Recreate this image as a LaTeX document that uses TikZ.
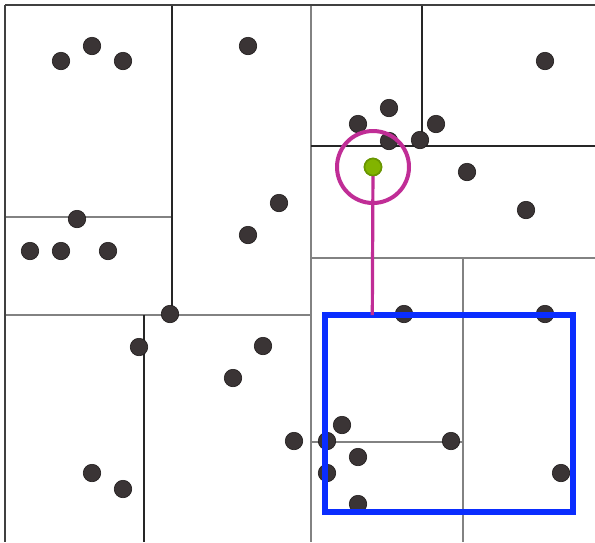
\documentclass[tikz,border=0pt]{standalone}
\usetikzlibrary{calc}
\definecolor{dotfill}{RGB}{58,52,53}
\definecolor{dotline}{RGB}{30,26,26}
\definecolor{gfill}{RGB}{130,180,0}
\definecolor{gline}{RGB}{105,150,0}
\definecolor{mag}{RGB}{192,45,150}
\definecolor{boxblue}{RGB}{10,45,255}
\definecolor{partgray}{RGB}{130,130,130}
\begin{document}
\begin{tikzpicture}[x=1pt,y=-1pt,
  blackline/.style={line width=2pt,draw=black!85},
  grayline/.style={line width=2.3pt,draw=partgray},
  framel/.style={line width=2.5pt,draw=black!75},
  pt/.style={circle,fill=dotfill,draw=dotline,line width=0.6pt,inner sep=0pt,minimum size=17.5pt},
  query/.style={circle,fill=gfill,draw=gline,line width=1.6pt,inner sep=0pt,minimum size=17pt},
  searchcircle/.style={draw=mag,line width=4pt},
  link/.style={draw=mag,line width=3.2pt},
  rangebox/.style={draw=boxblue,line width=6.3pt}]
\useasboundingbox (0,0) rectangle (595,542);
\fill[white] (0,0) rectangle (595,542);
% partition lines
\draw[grayline] (5,216.7) -- (172,216.7);
\draw[grayline] (5,315) -- (311,315);
\draw[grayline] (311,5) -- (311,542);
\draw[grayline] (311,258.3) -- (595,258.3);
\draw[grayline] (463,258.3) -- (463,542);
\draw[grayline] (311,441.7) -- (463,441.7);
\draw[blackline] (172,5) -- (172,315);
\draw[blackline] (421.7,5) -- (421.7,146);
\draw[blackline] (311,146) -- (595,146);
\draw[blackline] (144.3,315) -- (144.3,542);
\draw[framel] (5,5) -- (595,5);
\draw[framel] (5,5) -- (5,542);
% data points
\foreach \x/\y [count=\i] in {61/61,92/46,123/61,248/46,279/203,248/235,77/219,30/251,61/251,108/251,
  545/61,389/108,358/124,436/124,389/141,420/140,467/172,526/210,
  170/314,139/347,263/346,233/378,294/441,92/473,123/489,
  404/314,545/314,342/425,327/441,451/441,358/457,327/473,561/473,358/504}
  \node[pt] (d\i) at (\x,\y) {};
% range query box
\node[rangebox,inner sep=0pt,minimum width=248pt,minimum height=197pt] (box) at (449.2,413.5) {};
\coordinate (boxtop) at (372.3,315);
% nearest neighbour query
\node[query] (q) at (373,167) {};
\node[searchcircle,circle,inner sep=0pt,minimum size=72pt] (sc) at (q.center) {};
\draw[link] (q.center) -- (boxtop);
\node[query] at (q.center) {};
\end{tikzpicture}
\end{document}
